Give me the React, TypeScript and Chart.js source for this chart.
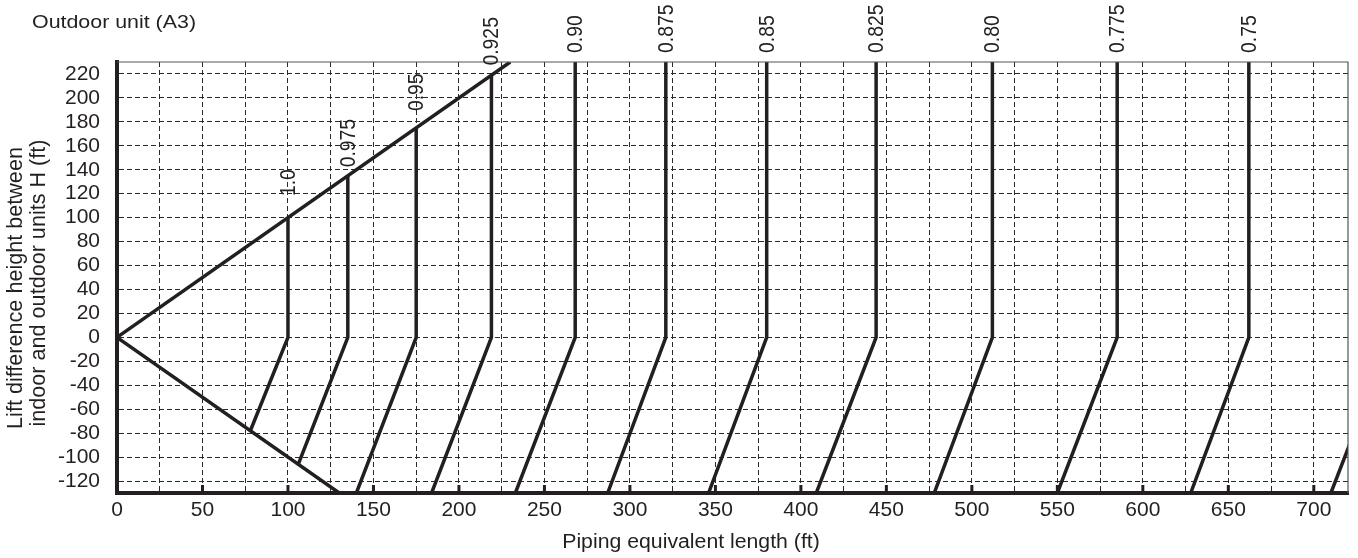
import React, { useEffect, useRef } from 'react';
import { Chart, registerables } from 'chart.js';

Chart.register(...registerables);

const chartTitle = 'Outdoor unit (A3)';
const xAxisTitle = 'Piping equivalent length (ft)';
const yAxisTitle = ['Lift difference height between', 'indoor and outdoor units H (ft)'];

const xMin = 0;
const xMax = 720;
const yMin = -130;
const yMax = 230;
const xGridValues = [0, 25, 50, 75, 100, 125, 150, 175, 200, 225, 250, 275, 300, 325, 350, 375, 400, 425, 450, 475, 500, 525, 550, 575, 600, 625, 650, 675, 700];
const xLabelValues = [0, 50, 100, 150, 200, 250, 300, 350, 400, 450, 500, 550, 600, 650, 700];
const yTickValues = [-120, -100, -80, -60, -40, -20, 0, 20, 40, 60, 80, 100, 120, 140, 160, 180, 200, 220];

// Upper and lower envelopes
const upperEnvelopeX = [0, 230];
const upperEnvelopeY = [0, 230];
const lowerEnvelopeX = [0, 130];
const lowerEnvelopeY = [0, -130];

// Correction factor curves
const factorLabels = ['1.0', '0.975', '0.95', '0.925', '0.90', '0.875', '0.85', '0.825', '0.80', '0.775', '0.75', ''];
const curveBottomX = [78, 106, 140, 184, 233, 287, 346, 409, 478, 550, 628, 710];
const curveBottomY = [-78, -106, -130, -130, -130, -130, -130, -130, -130, -130, -130, -130];
const curveKneeX = [100, 135, 175, 219, 268, 321, 380, 444, 512, 585, 662, 745];
const curveKneeY = [0, 0, 0, 0, 0, 0, 0, 0, 0, 0, 0, 0];
const curveTopY = [100, 135, 175, 219, 230, 230, 230, 230, 230, 230, 230, null];
const labelAnchorY = [118, 142, 189, 227, 237.5, 237.5, 237.5, 237.5, 237.5, 237.5, 237.5, null];

const INK = '#231f20';
const FONT = "'Liberation Sans', Arial, Helvetica, sans-serif";

export default function App() {
  const canvasRef = useRef<HTMLCanvasElement | null>(null);

  useEffect(() => {
    document.body.style.margin = '0';
    const canvas = canvasRef.current;
    if (!canvas) return;

    const lineStyle = {
      borderColor: INK,
      borderWidth: 3.5,
      pointRadius: 0,
      pointHoverRadius: 0,
      showLine: true,
      fill: false,
      tension: 0,
    };

    const datasets: any[] = [
      {
        ...lineStyle,
        label: 'upper',
        data: upperEnvelopeX.map((x, i) => ({ x, y: upperEnvelopeY[i] })),
      },
      {
        ...lineStyle,
        label: 'lower',
        data: lowerEnvelopeX.map((x, i) => ({ x, y: lowerEnvelopeY[i] })),
      },
    ];
    factorLabels.forEach((lab, i) => {
      const pts: any[] = [
        { x: curveBottomX[i], y: curveBottomY[i] },
        { x: curveKneeX[i], y: curveKneeY[i] },
      ];
      if (curveTopY[i] !== null) pts.push({ x: curveKneeX[i], y: curveTopY[i] });
      datasets.push({ ...lineStyle, label: lab || 'extra', data: pts });
    });

    const decorPlugin = {
      id: 'decor',
      afterDraw(chart: any) {
        const { ctx, chartArea, scales } = chart;
        const xs = scales.x;
        const ys = scales.y;
        ctx.save();
        // top and right thin borders
        ctx.strokeStyle = '#555';
        ctx.lineWidth = 1.2;
        ctx.beginPath();
        ctx.moveTo(chartArea.left, chartArea.top);
        ctx.lineTo(chartArea.right, chartArea.top);
        ctx.lineTo(chartArea.right, chartArea.bottom);
        ctx.stroke();
        // inward tick marks on x axis
        ctx.strokeStyle = INK;
        ctx.lineWidth = 3;
        xLabelValues.forEach((v) => {
          if (v === xMin) return;
          const px = xs.getPixelForValue(v);
          ctx.beginPath();
          ctx.moveTo(px, chartArea.bottom);
          ctx.lineTo(px, chartArea.bottom - 8);
          ctx.stroke();
        });
        // factor labels
        ctx.fillStyle = INK;
        ctx.font = `19px ${FONT}`;
        ctx.textAlign = 'left';
        ctx.textBaseline = 'middle';
        factorLabels.forEach((lab, i) => {
          if (!lab || labelAnchorY[i] === null) return;
          const px = xs.getPixelForValue(curveKneeX[i]) + 1;
          const py = ys.getPixelForValue(labelAnchorY[i]);
          ctx.save();
          ctx.translate(px, py);
          ctx.rotate(-Math.PI / 2);
          ctx.scale(1.02, 1.12);
          ctx.fillText(lab, 0, 0);
          ctx.restore();
        });
        // chart title
        ctx.save();
        ctx.font = `18.6px ${FONT}`;
        ctx.textAlign = 'left';
        ctx.textBaseline = 'alphabetic';
        ctx.translate(32, 28);
        ctx.scale(1.15, 1);
        ctx.fillText(chartTitle, 0, 0);
        ctx.restore();
        // x axis title
        ctx.save();
        ctx.font = `19.5px ${FONT}`;
        ctx.textAlign = 'center';
        ctx.textBaseline = 'alphabetic';
        ctx.translate(691, 548);
        ctx.scale(1.09, 1);
        ctx.fillText(xAxisTitle, 0, 0);
        ctx.restore();
        // y axis title (two lines)
        const yTitleX = [22, 45];
        const yTitleCY = [288, 283];
        yAxisTitle.forEach((t, i) => {
          ctx.save();
          ctx.font = `20px ${FONT}`;
          ctx.textAlign = 'center';
          ctx.textBaseline = 'alphabetic';
          ctx.translate(yTitleX[i], yTitleCY[i]);
          ctx.rotate(-Math.PI / 2);
          ctx.scale(1.08, 1.08);
          ctx.fillText(t, 0, 0);
          ctx.restore();
        });
        ctx.restore();
      },
    };

    const chart = new Chart(canvas, {
      type: 'scatter',
      data: { datasets },
      options: {
        animation: false,
        responsive: false,
        events: [],
        layout: { padding: { top: 62, right: 10, left: 0, bottom: 0 } },
        plugins: {
          legend: { display: false },
          title: { display: false },
          tooltip: { enabled: false },
        },
        scales: {
          x: {
            type: 'linear',
            min: xMin,
            max: xMax,
            afterBuildTicks: (scale: any) => {
              scale.ticks = xGridValues.map((v) => ({ value: v }));
            },
            afterFit: (scale: any) => {
              scale.height = 65;
            },
            ticks: {
              autoSkip: false,
              maxRotation: 0,
              padding: 5,
              color: INK,
              font: { family: FONT, size: 21 },
              callback: (v: any) => (xLabelValues.includes(Number(v)) ? String(v) : ''),
            },
            grid: {
              color: '#2a2a2a',
              lineWidth: 1,
              drawTicks: false,
            },
            border: { display: true, color: INK, width: 4, dash: [5, 3] },
          },
          y: {
            type: 'linear',
            min: yMin,
            max: yMax,
            afterBuildTicks: (scale: any) => {
              scale.ticks = yTickValues.map((v) => ({ value: v }));
            },
            afterFit: (scale: any) => {
              scale.width = 117;
            },
            ticks: {
              autoSkip: false,
              padding: 17,
              color: INK,
              font: { family: FONT, size: 21 },
              callback: (v: any) => String(v),
            },
            grid: {
              color: '#2a2a2a',
              lineWidth: 1,
              drawTicks: false,
            },
            border: { display: true, color: INK, width: 4, dash: [5, 3] },
          },
        },
      },
      plugins: [decorPlugin],
    } as any);

    return () => chart.destroy();
  }, []);

  return (
    <div style={{ position: 'fixed', left: 0, top: 0, width: 1358, height: 558, background: '#fff' }}>
      <canvas ref={canvasRef} width={1358} height={558} style={{ display: 'block' }} />
    </div>
  );
}
